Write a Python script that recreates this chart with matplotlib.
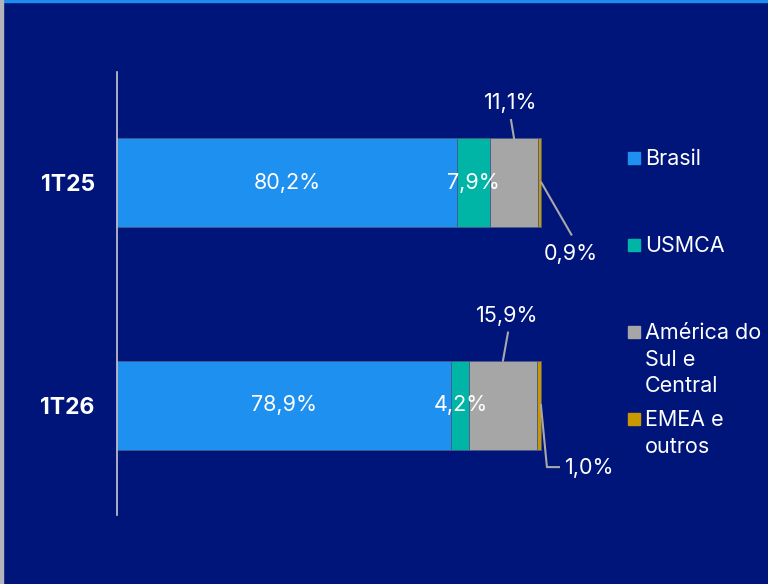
import matplotlib.pyplot as plt
import matplotlib.patches as mpatches
from matplotlib.lines import Line2D

# Dados
categorias = ["1T25", "1T26"]
brasil = [80.2, 78.9]
usmca = [7.9, 4.2]
america = [11.1, 15.9]
emea = [0.9, 1.0]

series = ["Brasil", "USMCA", "América do\nSul e\nCentral", "EMEA e\noutros"]

# Cores
FUNDO = "#00157A"
CORES = ["#1E90F0", "#00B5A5", "#A6A6A6", "#C99700"]
TEXTO = "white"
LINHA = "#A8A8A8"

plt.rcParams["font.family"] = ["Inter", "DejaVu Sans"]

W, H = 768, 584
fig = plt.figure(figsize=(W / 100, H / 100), dpi=100, facecolor=FUNDO)


def px_box(x0, y0, x1, y1):
    # caixa em pixels (origem no topo) -> coordenadas da figura
    return [x0 / W, 1 - y1 / H, (x1 - x0) / W, (y1 - y0) / H]


ax = fig.add_axes(px_box(117, 72, 560, 515))
ax.set_facecolor(FUNDO)

ypos = list(range(len(categorias)))
valores = [brasil, usmca, america, emea]
esquerda = [0.0] * len(categorias)
for vals, cor in zip(valores, CORES):
    ax.barh(ypos, vals, left=esquerda, height=0.4, color=cor,
            edgecolor="#4a5a8a", linewidth=0.6, zorder=2)
    esquerda = [e + v for e, v in zip(esquerda, vals)]

ax.set_xlim(0, 104.5)
ax.set_ylim(1.494, -0.497)

for s in ["top", "right", "bottom"]:
    ax.spines[s].set_visible(False)
ax.spines["left"].set_color("#C8C8D0")
ax.spines["left"].set_linewidth(1.2)
ax.set_xticks([])
ax.set_yticks(ypos)
ax.set_yticklabels(categorias, color=TEXTO, fontsize=16.5, fontweight="bold")
ax.tick_params(axis="y", length=0, pad=16)


def fmt(v):
    return f"{v:.1f}%".replace(".", ",")


# Rótulos internos (Brasil e USMCA)
for i in ypos:
    ax.text(brasil[i] / 2, i, fmt(brasil[i]), color=TEXTO, fontsize=15.5,
            ha="center", va="center", zorder=3)
    ax.text(brasil[i] + usmca[i] / 2, i, fmt(usmca[i]), color=TEXTO,
            fontsize=15.5, ha="center", va="center", zorder=3)

fig.canvas.draw()


def rotulo_externo(ancora, caminho, pos_texto, texto):
    # caminho e pos_texto em pixels relativos à âncora (y para cima)
    ax0, ay0 = ax.transData.transform(ancora)
    xs = [ax0 + dx for dx, dy in caminho]
    ys = [ay0 + dy for dx, dy in caminho]
    fig.add_artist(Line2D(xs, ys, transform=None, color=LINHA, linewidth=1.5))
    fig.text((ax0 + pos_texto[0]) / W, (ay0 + pos_texto[1]) / H, texto,
             color=TEXTO, fontsize=15.5, ha="center", va="center")


# 1T25
topo = 0 - 0.2
rotulo_externo((brasil[0] + usmca[0] + america[0] / 2, topo),
               [(0, 0), (-3, 18)], (-3, 35), fmt(america[0]))
rotulo_externo((brasil[0] + usmca[0] + america[0] + emea[0], 0),
               [(0, 0), (30, -52)], (29, -71), fmt(emea[0]))
# 1T26
topo = 1 - 0.2
rotulo_externo((brasil[1] + usmca[1] + america[1] / 2, topo),
               [(0, 0), (5, 28)], (4, 45), fmt(america[1]))
rotulo_externo((brasil[1] + usmca[1] + america[1] + emea[1], 1),
               [(0, 0), (6, -62), (18, -62)], (49, -63), fmt(emea[1]))

# Legenda manual
leg_y = [158, 245, 332, 419]
for nome, cor, y in zip(series, CORES, leg_y):
    fig.add_artist(mpatches.Rectangle((628 / W, 1 - (y + 6) / H), 12 / W, 12 / H,
                                      transform=fig.transFigure, color=cor))
    fig.text(645 / W, 1 - (y - 9) / H, nome, color=TEXTO, fontsize=15.5,
             ha="left", va="top", linespacing=1.42)

# Moldura: linha azul no topo e borda cinza à esquerda
fig.add_artist(mpatches.Rectangle((0, 1 - 2 / H), 1, 2 / H,
                                  transform=fig.transFigure, color="#1E8CEB"))
fig.add_artist(mpatches.Rectangle((0, 0), 3 / W, 1,
                                  transform=fig.transFigure, color="#B4B4BC"))

fig.savefig("out.png", dpi=100, facecolor=FUNDO)
